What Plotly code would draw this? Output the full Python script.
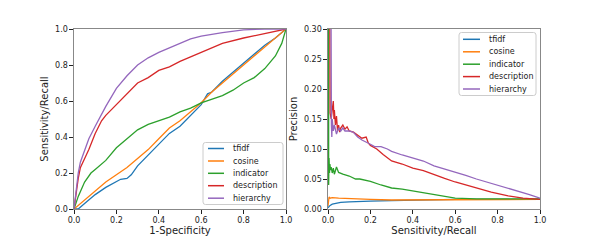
import plotly.graph_objects as go

names = ["tfidf", "cosine", "indicator", "description", "hierarchy"]
colors = ["#1f77b4", "#ff7f0e", "#2ca02c", "#d62728", "#9467bd"]

# ROC curves (1-specificity, sensitivity)
roc_tfidf_x = [0, 0.02, 0.05, 0.1, 0.15, 0.2, 0.22, 0.25, 0.27, 0.3, 0.35, 0.4, 0.45, 0.5, 0.55, 0.6, 0.63, 0.65, 0.7, 0.8, 0.9, 0.95, 1.0]
roc_tfidf_y = [0, 0.0, 0.03, 0.08, 0.12, 0.155, 0.165, 0.17, 0.19, 0.24, 0.3, 0.36, 0.42, 0.46, 0.52, 0.58, 0.64, 0.65, 0.71, 0.81, 0.91, 0.95, 1.0]
roc_cosine_x = [0, 0.05, 0.1, 0.15, 0.2, 0.25, 0.3, 0.35, 0.4, 0.45, 0.5, 0.55, 0.6, 0.65, 0.7, 0.8, 0.9, 1.0]
roc_cosine_y = [0, 0.05, 0.1, 0.15, 0.19, 0.23, 0.28, 0.33, 0.39, 0.45, 0.49, 0.54, 0.59, 0.65, 0.70, 0.80, 0.9, 1.0]
roc_indicator_x = [0, 0.02, 0.05, 0.08, 0.1, 0.15, 0.2, 0.25, 0.3, 0.35, 0.4, 0.45, 0.5, 0.55, 0.6, 0.65, 0.7, 0.75, 0.8, 0.85, 0.9, 0.95, 0.98, 1.0]
roc_indicator_y = [0, 0.07, 0.15, 0.2, 0.22, 0.27, 0.34, 0.39, 0.44, 0.47, 0.49, 0.51, 0.54, 0.56, 0.59, 0.61, 0.63, 0.66, 0.70, 0.73, 0.78, 0.85, 0.92, 1.0]
roc_description_x = [0, 0.01, 0.02, 0.03, 0.05, 0.07, 0.1, 0.13, 0.15, 0.2, 0.25, 0.3, 0.35, 0.4, 0.45, 0.5, 0.55, 0.6, 0.7, 0.8, 0.9, 1.0]
roc_description_y = [0, 0.1, 0.17, 0.23, 0.28, 0.33, 0.42, 0.49, 0.52, 0.58, 0.64, 0.70, 0.73, 0.77, 0.79, 0.82, 0.845, 0.87, 0.92, 0.95, 0.975, 1.0]
roc_hierarchy_x = [0, 0.01, 0.02, 0.03, 0.05, 0.07, 0.1, 0.13, 0.15, 0.2, 0.25, 0.3, 0.35, 0.4, 0.45, 0.5, 0.55, 0.6, 0.7, 0.8, 0.9, 1.0]
roc_hierarchy_y = [0, 0.12, 0.2, 0.26, 0.33, 0.39, 0.46, 0.53, 0.57, 0.67, 0.74, 0.80, 0.84, 0.87, 0.895, 0.92, 0.945, 0.96, 0.98, 0.995, 1.0, 1.0]

# Precision-recall curves (recall, precision)
pr_tfidf_x = [0.0, 0.01, 0.02, 0.04, 0.06, 0.1, 0.15, 0.2, 0.3, 0.4, 0.5, 0.6, 0.8, 1.0]
pr_tfidf_y = [0.002, 0.006, 0.008, 0.01, 0.011, 0.012, 0.013, 0.013, 0.014, 0.015, 0.016, 0.016, 0.016, 0.016]
pr_cosine_x = [0.0, 0.002, 0.005, 0.01, 0.02, 0.05, 0.1, 0.15, 0.2, 0.3, 0.4, 0.5, 0.6, 0.8, 1.0]
pr_cosine_y = [0.005, 0.018, 0.02, 0.018, 0.019, 0.018, 0.017, 0.017, 0.016, 0.015, 0.015, 0.016, 0.016, 0.016, 0.016]
pr_indicator_x = [0.003, 0.003, 0.005, 0.007, 0.009, 0.012, 0.015, 0.02, 0.025, 0.03, 0.04, 0.05, 0.07, 0.1, 0.13, 0.15, 0.2, 0.25, 0.3, 0.35, 0.4, 0.45, 0.5, 0.55, 0.6, 0.7, 0.8, 0.9, 1.0]
pr_indicator_y = [0.6, 0.04, 0.085, 0.06, 0.075, 0.065, 0.07, 0.06, 0.068, 0.058, 0.07, 0.061, 0.058, 0.055, 0.05, 0.05, 0.046, 0.04, 0.035, 0.033, 0.03, 0.027, 0.023, 0.02, 0.018, 0.017, 0.017, 0.017, 0.017]
pr_description_x = [0.006, 0.008, 0.01, 0.015, 0.02, 0.025, 0.028, 0.03, 0.035, 0.04, 0.045, 0.05, 0.055, 0.06, 0.07, 0.08, 0.09, 0.1, 0.12, 0.14, 0.16, 0.18, 0.19, 0.2, 0.23, 0.26, 0.3, 0.35, 0.4, 0.45, 0.5, 0.55, 0.6, 0.65, 0.7, 0.77, 0.85, 0.92, 1.0]
pr_description_y = [0.6, 0.2, 0.16, 0.15, 0.17, 0.18, 0.15, 0.165, 0.14, 0.155, 0.13, 0.14, 0.128, 0.135, 0.14, 0.133, 0.137, 0.13, 0.128, 0.123, 0.118, 0.12, 0.11, 0.106, 0.1, 0.091, 0.08, 0.075, 0.068, 0.064, 0.057, 0.051, 0.045, 0.04, 0.035, 0.028, 0.022, 0.018, 0.016]
pr_hierarchy_x = [0.012, 0.014, 0.016, 0.018, 0.02, 0.025, 0.03, 0.04, 0.05, 0.06, 0.07, 0.08, 0.1, 0.12, 0.14, 0.16, 0.18, 0.2, 0.22, 0.25, 0.28, 0.3, 0.35, 0.4, 0.45, 0.5, 0.55, 0.6, 0.65, 0.7, 0.75, 0.8, 0.85, 0.9, 0.95, 1.0]
pr_hierarchy_y = [0.6, 0.2, 0.14, 0.12, 0.15, 0.13, 0.14, 0.125, 0.135, 0.13, 0.135, 0.13, 0.13, 0.128, 0.12, 0.115, 0.112, 0.108, 0.104, 0.104, 0.1, 0.096, 0.09, 0.085, 0.08, 0.072, 0.067, 0.062, 0.056, 0.05, 0.045, 0.04, 0.035, 0.029, 0.024, 0.018]

roc = [(roc_tfidf_x, roc_tfidf_y), (roc_cosine_x, roc_cosine_y), (roc_indicator_x, roc_indicator_y),
       (roc_description_x, roc_description_y), (roc_hierarchy_x, roc_hierarchy_y)]
pr = [(pr_tfidf_x, pr_tfidf_y), (pr_cosine_x, pr_cosine_y), (pr_indicator_x, pr_indicator_y),
      (pr_description_x, pr_description_y), (pr_hierarchy_x, pr_hierarchy_y)]

W, H = 600, 240
OFF = 8  # page body margin


def px(wx):
    return (wx - OFF) / W


def py(wy):
    return 1 - (wy - OFF) / H


fig = go.Figure()
for n, c, (x, y) in zip(names, colors, roc):
    fig.add_trace(go.Scatter(x=x, y=y, mode="lines", name=n, line=dict(color=c, width=1.3),
                             xaxis="x", yaxis="y", showlegend=False))
for n, c, (x, y) in zip(names, colors, pr):
    fig.add_trace(go.Scatter(x=x, y=y, mode="lines", name=n, line=dict(color=c, width=1.3),
                             xaxis="x2", yaxis="y2", showlegend=False))

font = dict(family="DejaVu Sans", size=8, color="#222")
axcommon = dict(showgrid=False, zeroline=False, showline=True, mirror=True, linecolor="#888",
                linewidth=1.2, ticks="outside", ticklen=3.5, tickwidth=0.8, tickcolor="#222",
                tickfont=font, automargin=False)
title_font = dict(family="DejaVu Sans", size=10, color="#222")

shapes = []
annotations = []


def add_legend(left, right, top, bottom, line_x0, line_x1, text_x, rows):
    r = 2.5
    x0, x1, y0, y1 = left, right, top, bottom
    path = (f"M {px(x0 + r)},{py(y0)} L {px(x1 - r)},{py(y0)} Q {px(x1)},{py(y0)} {px(x1)},{py(y0 + r)} "
            f"L {px(x1)},{py(y1 - r)} Q {px(x1)},{py(y1)} {px(x1 - r)},{py(y1)} "
            f"L {px(x0 + r)},{py(y1)} Q {px(x0)},{py(y1)} {px(x0)},{py(y1 - r)} "
            f"L {px(x0)},{py(y0 + r)} Q {px(x0)},{py(y0)} {px(x0 + r)},{py(y0)} Z")
    shapes.append(dict(type="path", xref="paper", yref="paper", path=path,
                       fillcolor="rgba(255,255,255,0.85)", line=dict(color="#cccccc", width=1)))
    for n, c, ry in zip(names, colors, rows):
        shapes.append(dict(type="line", xref="paper", yref="paper", x0=px(line_x0), x1=px(line_x1),
                           y0=py(ry), y1=py(ry), line=dict(color=c, width=1.5)))
        annotations.append(dict(text=n, xref="paper", yref="paper", x=px(text_x), y=py(ry),
                                xanchor="left", yanchor="middle", showarrow=False, font=font))


add_legend(203, 283, 142.5, 204.5, 208, 224, 230.5, [148.5, 161, 173.3, 185.7, 198.2])
add_legend(459, 536, 32.5, 95.5, 463, 480, 486.5, [39.3, 51.8, 64.2, 76.6, 89])

fig.update_layout(
    width=W, height=H, margin=dict(l=0, r=0, t=0, b=0),
    paper_bgcolor="white", plot_bgcolor="white", font=font, showlegend=False,
    xaxis=dict(domain=[px(74), px(286)], range=[0, 1], tickvals=[0, 0.2, 0.4, 0.6, 0.8, 1.0],
               tickformat=".1f", title=dict(text="1-Specificity", font=title_font, standoff=2),
               anchor="y", **axcommon),
    yaxis=dict(domain=[py(209), py(29)], range=[0, 1], tickvals=[0, 0.2, 0.4, 0.6, 0.8, 1.0],
               tickformat=".1f", title=dict(text="Sensitivity/Recall", font=title_font, standoff=4),
               anchor="x", **axcommon),
    xaxis2=dict(domain=[px(328), px(540)], range=[0, 1], tickvals=[0, 0.2, 0.4, 0.6, 0.8, 1.0],
                tickformat=".1f", title=dict(text="Sensitivity/Recall", font=title_font, standoff=2),
                anchor="y2", **axcommon),
    yaxis2=dict(domain=[py(209), py(29)], range=[0, 0.3], tickvals=[0, 0.05, 0.1, 0.15, 0.2, 0.25, 0.3],
                tickformat=".2f", title=dict(text="Precision", font=title_font, standoff=4),
                anchor="x2", **axcommon),
    shapes=shapes, annotations=annotations,
)

fig.write_html("out.html")
